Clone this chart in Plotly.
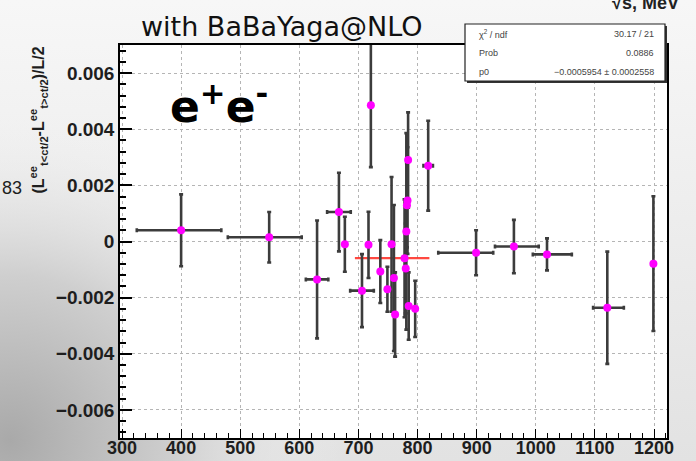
import base64
import plotly.graph_objects as go

# ---------------- data ----------------
sqrt_s = [400, 549, 630, 667, 677, 706, 717, 721, 737, 749, 756, 760, 762,
          778, 780, 781, 782, 783, 784, 785, 796, 818, 899, 963, 1019, 1121, 1199]
asym = [0.0004, 0.00015, -0.00135, 0.00105, -0.0001, -0.00175, -0.00012, 0.00485,
        -0.00107, -0.0017, -0.0001, -0.0013, -0.0026, -0.0006, -0.00096, 0.00036,
        0.00129, 0.00146, 0.0029, -0.0023, -0.0024, 0.0027, -0.0004, -0.00018,
        -0.00046, -0.00236, -0.00079]
asym_err = [0.00128, 0.0009, 0.0021, 0.0014, 0.00098, 0.0013, 0.00118, 0.0022,
            0.00112, 0.0008, 0.0024, 0.0026, 0.0015, 0.0021, 0.0016, 0.0035,
            0.0015, 0.0019, 0.0017, 0.0012, 0.001, 0.0016, 0.0008, 0.00095,
            0.00057, 0.002, 0.0024]
x_err_minus = [75, 70, 19, 20, 0, 20, 0, 0, 0, 0, 0, 0, 0, 0, 0, 0, 0, 0, 0, 0, 0, 8,
               64, 32, 24, 24, 0]
x_err_plus = [68, 55, 19, 20, 0, 20, 0, 0, 0, 0, 0, 0, 0, 0, 0, 0, 0, 0, 0, 0, 0, 8,
              29, 42, 42, 28, 0]

fit_range = [694, 820]
p0 = -0.0005954
p0_err = 0.0002558
chi2_text = "30.17 / 21"
prob_text = "0.0886"

x_ticks = [300, 400, 500, 600, 700, 800, 900, 1000, 1100, 1200]
y_ticks = [-0.006, -0.004, -0.002, 0, 0.002, 0.004, 0.006]
y_ticktext = ["\u22120.006", "\u22120.004", "\u22120.002", "0", "0.002", "0.004", "0.006"]

# ---------------- geometry helpers (pixels -> paper) ----------------
W, H = 696, 461
L, R, T, B = 120, 667, 45, 438


def px(xp):
    return (xp - L) / (R - L)


def py(yp):
    return (B - yp) / (B - T)


# background (blurred photo look)
svg = f'''<svg xmlns="http://www.w3.org/2000/svg" width="{W}" height="{H}">
<defs>
<radialGradient id="g" gradientUnits="userSpaceOnUse" cx="10" cy="440" r="330">
<stop offset="0" stop-color="#a9a9a9"/>
<stop offset="0.5" stop-color="#cfcfcf"/>
<stop offset="1" stop-color="#f3f3f3" stop-opacity="0"/>
</radialGradient>
<linearGradient id="h" x1="0" y1="0" x2="0" y2="1">
<stop offset="0" stop-color="#f7f7f7"/>
<stop offset="1" stop-color="#e2e2e2"/>
</linearGradient>
</defs>
<rect width="{W}" height="{H}" fill="url(#h)"/>
<rect width="{W}" height="{H}" fill="url(#g)"/>
</svg>'''
bg_src = "data:image/svg+xml;base64," + base64.b64encode(svg.encode()).decode()

fig = go.Figure()

# fit line
fig.add_trace(go.Scatter(
    x=fit_range, y=[p0, p0], mode="lines",
    line=dict(color="rgba(255,40,30,0.85)", width=2.2),
    hoverinfo="skip", showlegend=False))

# data points
fig.add_trace(go.Scatter(
    x=sqrt_s, y=asym, mode="markers",
    marker=dict(color="#ff00ff", size=8, symbol="circle"),
    error_y=dict(type="data", array=asym_err, visible=True,
                 color="#3c3c3c", thickness=2.6, width=2),
    error_x=dict(type="data", array=x_err_plus, arrayminus=x_err_minus,
                 symmetric=False, visible=True,
                 color="#3c3c3c", thickness=2.6, width=2),
    showlegend=False))

tick_font = dict(family="Liberation Sans, Arial", size=19, color="#1e1e1e", weight="bold")
xtick_font = dict(family="Liberation Sans, Arial", size=18, color="#1e1e1e", weight="bold")

fig.update_layout(
    width=W, height=H,
    margin=dict(l=L, r=W - R, t=T, b=H - B),
    paper_bgcolor="#ececec",
    plot_bgcolor="white",
    showlegend=False,
    xaxis=dict(range=[296.6, 1222], tickvals=x_ticks, ticks="inside", ticklen=9,
               tickwidth=1, tickcolor="black", automargin=False,
               ticklabelstandoff=-7,
               minor=dict(dtick=20, tick0=300, ticks="inside", ticklen=5,
                          tickcolor="black", showgrid=False),
               showline=True, linecolor="black", linewidth=1.5, mirror=True,
               showgrid=True, gridcolor="#b5b5b5", griddash="dot", gridwidth=1,
               zeroline=False, tickfont=xtick_font),
    yaxis=dict(range=[-0.007, 0.007], tickvals=y_ticks, ticktext=y_ticktext,
               ticks="inside", ticklen=12, tickwidth=1.5, tickcolor="black",
               automargin=False,
               minor=dict(dtick=0.0004, tick0=0, ticks="inside", ticklen=6,
                          tickcolor="black", showgrid=False),
               showline=True, linecolor="black", linewidth=1.5, mirror=True,
               showgrid=True, gridcolor="#b5b5b5", griddash="dot", gridwidth=1,
               zeroline=False, tickfont=tick_font),
    images=[dict(source=bg_src, xref="paper", yref="paper",
                 x=px(0), y=py(0), sizex=W / (R - L), sizey=H / (B - T),
                 xanchor="left", yanchor="top", sizing="stretch", layer="below")],
)

# white plot area above background image
fig.add_shape(type="rect", xref="paper", yref="paper", x0=0, x1=1, y0=0, y1=1,
              fillcolor="white", line=dict(width=0), layer="below")

# stats box (shadow + box)
fig.add_shape(type="rect", xref="paper", yref="paper",
              x0=px(467), x1=px(667), y0=py(83), y1=py(26),
              fillcolor="#333333", line=dict(width=0), layer="above")
fig.add_shape(type="rect", xref="paper", yref="paper",
              x0=px(465), x1=px(665), y0=py(81), y1=py(24),
              fillcolor="white", line=dict(color="#222222", width=1.2), layer="above")

stat_font = dict(family="Liberation Sans, Arial", size=9, color="#444444")
p0_text = f"\u2212{abs(p0):.7f} \u00b1 {p0_err:.7f}"
rows = [("\u03c7<sup>2</sup> / ndf", chi2_text, 34),
        ("Prob", prob_text, 53),
        ("p0", p0_text, 72)]
for left, right, yp in rows:
    fig.add_annotation(x=px(477), y=py(yp), xref="paper", yref="paper", text=left,
                       showarrow=False, xanchor="left", yanchor="middle", font=stat_font)
    fig.add_annotation(x=px(656), y=py(yp), xref="paper", yref="paper", text=right,
                       showarrow=False, xanchor="right", yanchor="middle", font=stat_font)

# header text
fig.add_annotation(x=px(282), y=py(27), xref="paper", yref="paper",
                   text="with BaBaYaga@NLO", showarrow=False,
                   xanchor="center", yanchor="middle",
                   font=dict(family="DejaVu Sans", size=27, color="#111111"))
fig.add_annotation(x=px(645), y=py(3), xref="paper", yref="paper",
                   text="\u221as, MeV", showarrow=False,
                   xanchor="center", yanchor="middle",
                   font=dict(family="Liberation Sans, Arial", size=18, color="#222222",
                             weight="bold"))
# e+e- label
fig.add_annotation(x=px(168), y=py(103), xref="paper", yref="paper",
                   text="e<sup>+</sup>e<sup>-</sup>", showarrow=False,
                   xanchor="left", yanchor="middle",
                   font=dict(family="DejaVu Sans", size=44, color="black", weight="bold"))
# y-axis title
fig.add_annotation(x=px(38), y=py(45), xref="paper", yref="paper",
                   text="(L<sup>ee</sup><sub>t&lt;ct/2</sub>-L<sup>ee</sup><sub>t&gt;ct/2</sub>)/L/2",
                   textangle=-90, showarrow=False, xanchor="center", yanchor="top",
                   font=dict(family="Liberation Sans, Arial", size=16, color="#1e1e1e",
                             weight="bold"))
# stray slide text
fig.add_annotation(x=px(0), y=py(188), xref="paper", yref="paper",
                   text="83", showarrow=False, xanchor="left", yanchor="middle",
                   font=dict(family="Liberation Sans, Arial", size=18, color="#1e1e1e"))

fig.write_html("out.html")
